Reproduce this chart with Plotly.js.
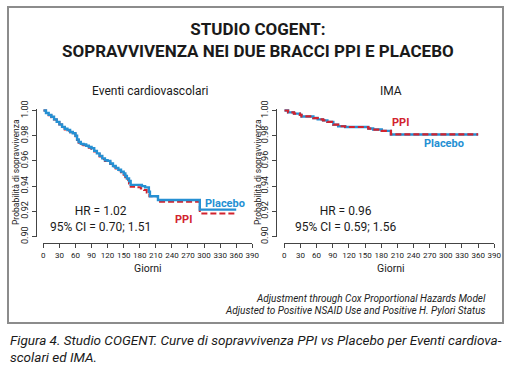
<!DOCTYPE html>
<html>
<head>
<meta charset="utf-8">
<script src="https://cdn.plot.ly/plotly-3.0.1.min.js"></script>
<style>
html,body{margin:0;padding:0;background:#fff;}
#chart{width:519px;height:382px;}
</style>
</head>
<body>
<div id="chart"></div>
<script>
// ---------- DATA ----------
// Eventi cardiovascolari (left panel)
const cvPlaceboDays = [0,5,10,15,20,25,30,35,40,45,50,55,60,63,66,70,75,80,85,90,95,100,105,110,115,120,125,130,135,140,145,150,153,156,160,163,184,190,197,199,214,292,360];
const cvPlaceboSurv = [1.000,0.998,0.9965,0.995,0.993,0.991,0.989,0.987,0.9855,0.9845,0.983,0.982,0.980,0.977,0.975,0.9735,0.973,0.972,0.971,0.970,0.968,0.966,0.964,0.962,0.9605,0.960,0.958,0.956,0.9545,0.953,0.9515,0.950,0.948,0.946,0.944,0.941,0.940,0.939,0.9355,0.932,0.929,0.9213,0.9213];
const cvPpiDays = [0,5,10,15,20,25,30,35,40,45,50,55,60,63,66,70,75,80,85,90,95,100,105,110,115,120,125,130,135,140,145,150,153,156,160,163,175,182,188,193,198,214,292,360];
const cvPpiSurv = [1.000,0.998,0.9962,0.9947,0.9928,0.9908,0.9888,0.9868,0.985,0.984,0.9827,0.9815,0.9795,0.9765,0.9745,0.973,0.9725,0.9715,0.9705,0.9695,0.9675,0.9655,0.9635,0.9615,0.960,0.9595,0.9575,0.9555,0.954,0.9525,0.951,0.949,0.947,0.945,0.942,0.9395,0.939,0.938,0.937,0.935,0.932,0.9276,0.9183,0.9183];
// IMA (right panel)
const imaPlaceboDays = [0,7,18,29,32,54,62,72,80,91,100,113,156,165,181,198,360];
const imaPlaceboSurv = [1.000,0.9985,0.9975,0.9965,0.9953,0.994,0.993,0.9922,0.991,0.9888,0.9875,0.9869,0.9857,0.9849,0.9838,0.981,0.981];
const imaPpiDays = [0,7,18,29,32,54,62,72,80,91,100,113,156,165,181,198,360];
const imaPpiSurv = [1.000,0.9985,0.9975,0.9965,0.9953,0.994,0.993,0.9922,0.991,0.9888,0.9875,0.9869,0.9857,0.9849,0.9838,0.981,0.981];

const dayTicks = [0,30,60,90,120,150,180,210,240,270,300,330,360,390];
const survTicks = [0.90,0.92,0.94,0.96,0.98,1.00];

const titleText = "STUDIO COGENT:<br>SOPRAVVIVENZA NEI DUE BRACCI PPI E PLACEBO";
const panelTitles = ["Eventi cardiovascolari","IMA"];
const yTitle = "Probabilità di sopravvivenza";
const xTitle = "Giorni";
const hrTexts = ["HR = 1.02<br>95% CI = 0.70; 1.51","HR = 0.96<br>95% CI = 0.59; 1.56"];
const noteLines = ["Adjustment through Cox Proportional Hazards Model","Adjusted to Positive NSAID Use and Positive H. Pylori Status"];
const captionLines = ["Figura 4. Studio COGENT. Curve di sopravvivenza PPI vs Placebo per Eventi cardiova-","scolari ed IMA."];

// ---------- STYLE ----------
const W = 519, H = 382;
const px = x => x / W;
const py = y => 1 - y / H;
const FONT = "Roboto, 'Liberation Sans', sans-serif";
const BLUE = "#2590d3";
const RED = "#d2232e";
const AX = "#444";

const traces = [
  {x: cvPpiDays, y: cvPpiSurv, xaxis:'x', yaxis:'y', mode:'lines', line:{shape:'hv', color:RED, width:2, dash:'6px,3px'}, hoverinfo:'skip'},
  {x: cvPlaceboDays, y: cvPlaceboSurv, xaxis:'x', yaxis:'y', mode:'lines', line:{shape:'hv', color:BLUE, width:2.4}, hoverinfo:'skip'},
  {x: imaPlaceboDays, y: imaPlaceboSurv, xaxis:'x2', yaxis:'y2', mode:'lines', line:{shape:'hv', color:BLUE, width:2.4}, hoverinfo:'skip'},
  {x: imaPpiDays, y: imaPpiSurv, xaxis:'x2', yaxis:'y2', mode:'lines', line:{shape:'hv', color:RED, width:2.2, dash:'6px,3px'}, hoverinfo:'skip'}
];

function xAx(dom){
  return {domain:dom, anchor:'free', position:py(243), range:[0,390], tickvals:dayTicks,
    ticktext: dayTicks.map(String), tickangle:0, showline:true, linecolor:AX, linewidth:1, ticks:'outside', ticklen:4,
    tickcolor:AX, tickfont:{family:FONT, size:8, color:'#222'}, showgrid:false, zeroline:false, fixedrange:true};
}
function yAx(pos){
  return {domain:[py(236.5), py(109)], anchor:'free', position:pos, range:[0.90,1.0012], tickvals:survTicks,
    ticktext: survTicks.map(v=>v.toFixed(2)), tickangle:-90, showline:true, linecolor:AX, linewidth:1, ticks:'outside', ticklen:4,
    tickcolor:AX, tickfont:{family:FONT, size:9, color:'#222'}, showgrid:false, zeroline:false, fixedrange:true};
}

const ann = [];
function A(text, x, y, opts){ ann.push(Object.assign({text:text, x:px(x), y:py(y), xref:'paper', yref:'paper', showarrow:false, xanchor:'center', yanchor:'middle', font:{family:FONT, size:12, color:'#1a1a1a'}}, opts||{})); }

A("<b>"+titleText+"</b>", 258, 40, {font:{family:FONT, size:17, color:'#1a1a1a'}});
A(panelTitles[0], 150, 91, {font:{family:FONT, size:12, color:'#1a1a1a'}});
A(panelTitles[1], 391, 91, {font:{family:FONT, size:12, color:'#1a1a1a'}});
A(yTitle, 16, 172, {textangle:-90, font:{family:FONT, size:8.5, color:'#222'}});
A(yTitle, 258, 172, {textangle:-90, font:{family:FONT, size:8.5, color:'#222'}});
A(xTitle, 148, 268, {font:{family:FONT, size:10.5, color:'#222'}});
A(xTitle, 391, 268, {font:{family:FONT, size:10.5, color:'#222'}});
A(hrTexts[0], 100, 219, {font:{family:FONT, size:12, color:'#1a1a1a'}});
A(hrTexts[1], 345, 219, {font:{family:FONT, size:12, color:'#1a1a1a'}});
A("<b>Placebo</b>", 225, 203, {font:{family:FONT, size:11, color:BLUE}});
A("<b>PPI</b>", 183, 219, {font:{family:FONT, size:11, color:RED}});
A("<b>PPI</b>", 400, 123, {font:{family:FONT, size:11, color:RED}});
A("<b>Placebo</b>", 444, 143, {font:{family:FONT, size:11, color:BLUE}});
A("<i>"+noteLines[0]+"</i>", 488, 298, {xanchor:'right', font:{family:FONT, size:10, color:'#222'}});
A("<i>"+noteLines[1]+"</i>", 488, 310, {xanchor:'right', font:{family:FONT, size:10, color:'#222'}});
A("<i>"+captionLines[0]+"</i>", 8, 340, {xanchor:'left', font:{family:FONT, size:13.5, color:'#1a1a1a'}});
A("<i>"+captionLines[1]+"</i>", 8, 357, {xanchor:'left', font:{family:FONT, size:13.5, color:'#1a1a1a'}});

const layout = {
  width:W, height:H, margin:{l:0,r:0,t:0,b:0}, paper_bgcolor:'#fff', plot_bgcolor:'rgba(0,0,0,0)',
  showlegend:false,
  xaxis: xAx([px(43.3), px(252.3)]),
  yaxis: yAx(px(36)),
  xaxis2: xAx([px(284.3), px(494.3)]),
  yaxis2: yAx(px(276)),
  annotations: ann,
  shapes: [{type:'rect', xref:'paper', yref:'paper', x0:px(8), x1:px(503), y0:py(323), y1:py(7), line:{color:'#8c8c8c', width:2}, fillcolor:'rgba(0,0,0,0)'}]
};

Plotly.newPlot('chart', traces, layout, {staticPlot:true, displayModeBar:false});
</script>
</body>
</html>
